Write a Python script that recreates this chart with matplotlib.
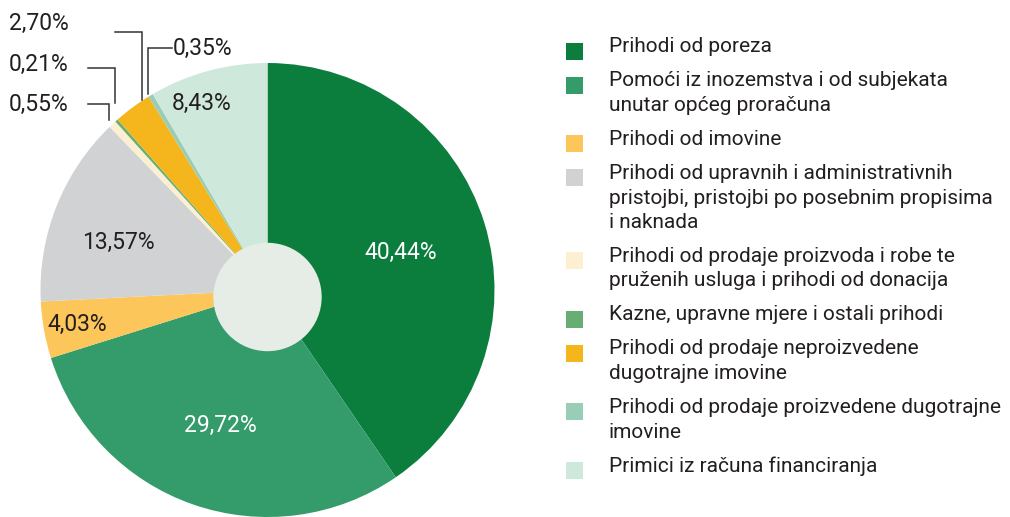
import numpy as np
import matplotlib.pyplot as plt
from matplotlib.patches import Circle, Rectangle

plt.rcParams['font.family'] = ['Roboto', 'DejaVu Sans']

# podaci
labels = [
    "Prihodi od poreza",
    "Pomoći iz inozemstva i od subjekata\nunutar općeg proračuna",
    "Prihodi od imovine",
    "Prihodi od upravnih i administrativnih\npristojbi, pristojbi po posebnim propisima\ni naknada",
    "Prihodi od prodaje proizvoda i robe te\npruženih usluga i prihodi od donacija",
    "Kazne, upravne mjere i ostali prihodi",
    "Prihodi od prodaje neproizvedene\ndugotrajne imovine",
    "Prihodi od prodaje proizvedene dugotrajne\nimovine",
    "Primici iz računa financiranja",
]
shares = [40.44, 29.72, 4.03, 13.57, 0.55, 0.21, 2.70, 0.35, 8.43]
colors = ["#0B7E3E", "#339C6A", "#FDC65A", "#D1D2D4", "#FDEFD2",
          "#68AE74", "#F5B51C", "#9ACDB6", "#CFE8DC"]

W, H = 1010, 517
TXT = "#231F20"

def py(y):
    # pikselna y koordinata (odozgo) -> podatkovna (odozdo)
    return H - y

# raspored
cx, cy, R = 267.5, py(290), 227
label_r = [0.61, 0.63, 0.85, 0.69, None, None, None, None, 0.87]
label_dang = [-1.6, 0, 0, 3.7, 0, 0, 0, 0, 4.2]  # pomak kuta oznake (stupnjevi)
label_white = [True, True, False, False, False, False, False, False, False]
# vanjske oznake: tekst (x, y), linija (x0, y_h), x_v, y_kraj
outside = {
    4: ((9, 104), (88, 104), 109, 120),
    5: ((9, 64), (88, 68), 115, 103),
    6: ((9, 23), (115, 32), 142, 100),
    7: ((173, 48), (172, 48), 148, 94),
}
PCT_FS = 16.5
LEG_FS = 15

fig = plt.figure(figsize=(W / 100, H / 100), dpi=100)
ax = fig.add_axes([0, 0, 1, 1])

wedges, _ = ax.pie(shares, colors=colors, startangle=90, counterclock=False,
                   center=(cx, cy), radius=R, wedgeprops=dict(linewidth=0))

ax.add_patch(Circle((267.5, py(297)), 53.5, color="#E5EDE6", zorder=5))

def fmt(v):
    return f"{v:.2f}".replace(".", ",") + "%"

for i, w in enumerate(wedges):
    if label_r[i] is None:
        continue
    mid = np.radians((w.theta1 + w.theta2) / 2 + label_dang[i])
    x = cx + label_r[i] * R * np.cos(mid)
    y = cy + label_r[i] * R * np.sin(mid)
    ax.text(x, y, fmt(shares[i]), ha="center", va="center", fontsize=PCT_FS,
            color="white" if label_white[i] else TXT, zorder=6)

for i, ((tx, ty), (hx, hy), vx, vy) in outside.items():
    ax.text(tx, py(ty), fmt(shares[i]), ha="left", va="center", fontsize=PCT_FS, color=TXT)
    ax.plot([hx, vx, vx], [py(hy), py(hy), py(vy)], color="#333333", lw=1.1,
            solid_joinstyle="miter")

# legenda
y = 47
for lab, c in zip(labels, colors):
    lines = lab.split("\n")
    ax.add_patch(Rectangle((566, py(y + 12.5)), 17, 17, color=c, lw=0))
    for k, ln in enumerate(lines):
        ax.text(609, py(y + k * 24.5), ln, ha="left", va="center", fontsize=LEG_FS, color=TXT)
    y += (len(lines) - 1) * 24.5 + 34

ax.set_xlim(0, W)
ax.set_ylim(0, H)
ax.set_aspect("equal")
ax.axis("off")

fig.savefig("out.png", dpi=100)
